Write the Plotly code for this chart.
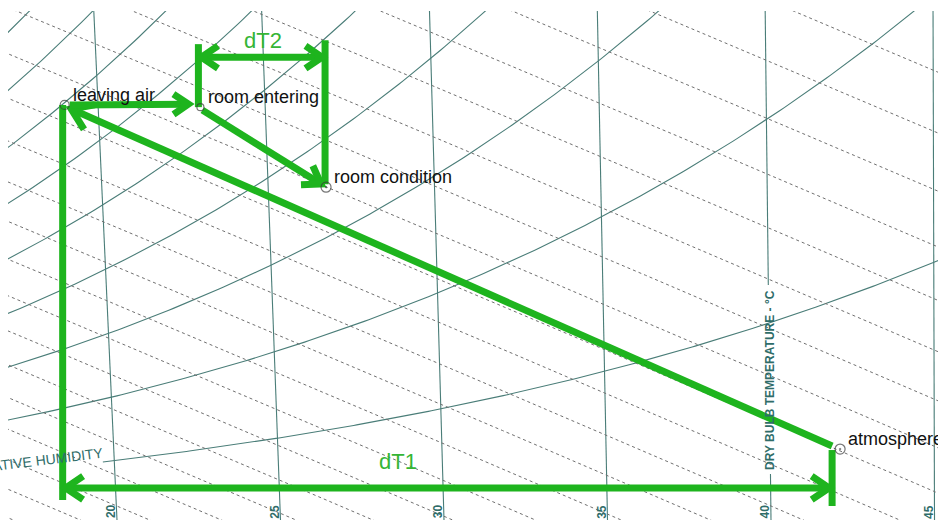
import numpy as np
import plotly.graph_objects as go

# ---------------- values ----------------
db_lines = [20, 25, 30, 35, 40, 45]                      # dry-bulb lines, deg C
db_tick_labels = ["20", "25", "30", "35", "40", "45"]
rh_lines = [10, 20, 30, 40, 50, 60, 70, 80, 90, 100]      # relative humidity, %
twb_lines = [2.8, 3.8, 4.8, 5.8, 6.8, 7.8, 8.8, 9.8, 10.8, 11.8, 12.8, 13.8,
             14.8, 15.8, 16.8, 17.8, 18.8, 19.8, 20.8, 21.8, 22.8, 23.8, 24.8]  # wet-bulb lines
state_names = ["leaving air", "room entering", "room condition", "atmosphere"]
state_tdb = [19.0, 23.06, 26.74, 42.13]                   # deg C
state_w = [9.52, 9.47, 7.65, 1.70]                        # g/kg dry air
dt_labels = ["dT1", "dT2"]
rh_axis_title = "RELATIVE HUMIDITY"
db_axis_title = "DRY BULB TEMPERATURE - °C"

# ---------------- chart geometry ----------------
P_ATM = 101.325
X_RANGE = [16.667, 45.107]
W_RANGE = [0.087, 11.655]
FIG_W, FIG_H = 938, 520
M_L, M_T = 8, 11
KX = (FIG_W - M_L) / (X_RANGE[1] - X_RANGE[0])
KY = (FIG_H - M_T) / (W_RANGE[1] - W_RANGE[0])
WB_SLOPE = 0.323          # g/kg per K along the dashed lines
RH10_START = 19.65        # the 10 % curve gives way to its label
DB40_GAP = (1.13, 5.43)   # the 40 line gives way to the axis title

GRID = "#4a7d78"
TEAL = "#2f6d69"
GREEN = "#1eb41e"
GREEN_TXT = "#35b535"


def chart_x(T, W):
    frac = (np.asarray(W) - W_RANGE[0]) / (W_RANGE[1] - W_RANGE[0])
    lean_px = 1.47 + 0.869 * (45.0 - np.asarray(T))
    return np.asarray(T) - lean_px / KX * frac


def to_px(x, w):
    return M_L + (x - X_RANGE[0]) * KX, M_T + (W_RANGE[1] - w) * KY


def from_px(px, py):
    return X_RANGE[0] + (px - M_L) / KX, W_RANGE[1] - (py - M_T) / KY


def p_sat(T):
    return 0.61094 * np.exp(17.625 * T / (T + 243.04))


def w_rh(T, rh):
    pv = rh / 100.0 * p_sat(T)
    return 622.0 * pv / (P_ATM - pv)


fig = go.Figure()

# dry-bulb lines
xs, ys = [], []
for T in db_lines:
    if T == 40:
        segs = [(W_RANGE[0] - 0.2, DB40_GAP[0]), (DB40_GAP[1], W_RANGE[1] + 0.2)]
    else:
        segs = [(W_RANGE[0] - 0.2, W_RANGE[1] + 0.2)]
    for a, b in segs:
        w = np.array([a, b])
        xs += list(chart_x(T, w)) + [None]
        ys += list(w) + [None]
fig.add_trace(go.Scatter(x=xs, y=ys, mode="lines", line=dict(color=GRID, width=1.1),
                         hoverinfo="skip"))

# relative humidity curves
xs, ys = [], []
for rh in rh_lines:
    T = np.linspace(RH10_START if rh == 10 else 5, 47, 300)
    w = w_rh(T, rh)
    keep = w < W_RANGE[1] + 0.6
    xs += list(chart_x(T[keep], w[keep])) + [None]
    ys += list(w[keep]) + [None]
fig.add_trace(go.Scatter(x=xs, y=ys, mode="lines", line=dict(color=GRID, width=1.1),
                         hoverinfo="skip"))

# wet-bulb (dashed) lines
xs, ys = [], []
for twb in twb_lines:
    T = np.linspace(twb, 47, 80)
    w = 622.0 * p_sat(twb) / (P_ATM - p_sat(twb)) - WB_SLOPE * (T - twb)
    keep = (w > W_RANGE[0] - 0.5) & (w < W_RANGE[1] + 3)
    xs += list(chart_x(T[keep], w[keep])) + [None]
    ys += list(w[keep]) + [None]
fig.add_trace(go.Scatter(x=xs, y=ys, mode="lines",
                         line=dict(color="#707070", width=1, dash="3px,3px"),
                         hoverinfo="skip"))

# ---------------- hand-drawn green construction ----------------
sx = [float(chart_x(t, w)) for t, w in zip(state_tdb, state_w)]
spx = [to_px(x, w) for x, w in zip(sx, state_w)]

gx, gy = [], []


def seg(p0, p1):
    a = from_px(*p0)
    b = from_px(*p1)
    gx.extend([a[0], b[0], None])
    gy.extend([a[1], b[1], None])


def head(tip, tail, L=21, ang=34):
    d = np.array(tip) - np.array(tail)
    d = d / np.hypot(*d)
    pts = []
    for s in (1, -1):
        r = np.radians(s * ang)
        rot = np.array([d[0] * np.cos(r) - d[1] * np.sin(r), d[0] * np.sin(r) + d[1] * np.cos(r)])
        pts.append(np.array(tip) - L * rot)
    for p in (pts[0], tip, pts[1]):
        q = from_px(*p)
        gx.append(q[0]); gy.append(q[1])
    gx.append(None); gy.append(None)


def shorten(p0, p1, d):
    v = np.array(p1) - np.array(p0)
    return tuple(np.array(p1) - d * v / np.hypot(*v))


la, re, rc, at = spx
# dT1 construction
x_left = la[0] - 2
x_right = at[0] - 8
y_dt1 = la[1] + 383
seg((x_left, la[1]), (x_left, la[1] + 395))
seg((x_right, at[1] + 1), (x_right, at[1] + 57))
seg((x_left + 3, y_dt1), (x_right - 3, y_dt1))
head((x_left + 3, y_dt1), (x_right, y_dt1))
head((x_right - 3, y_dt1), (x_left, y_dt1))
# long diagonal atmosphere -> leaving air
d_tail = (x_right, at[1] - 3)
d_tip = shorten(d_tail, (la[0] + 2, la[1] + 2), 5)
seg(d_tail, d_tip)
head(d_tip, d_tail, L=24)
# leaving air -> room entering
h_tail = (la[0] + 5, la[1])
h_tip = (re[0] - 12, re[1] - 3)
seg(h_tail, h_tip)
head(h_tip, h_tail, L=18)
# room entering -> room condition
r_tail = (re[0] + 2, re[1] + 3)
r_tip = shorten(r_tail, rc, 6)
seg(r_tail, r_tip)
head(r_tip, r_tail, L=20)
# dT2 construction
x2l = re[0] - 2
x2r = rc[0] - 1
y_dt2 = re[1] - 50
seg((x2l, re[1]), (x2l, re[1] - 63))
seg((x2r, rc[1] - 3), (x2r, rc[1] - 147))
seg((x2l + 3, y_dt2), (x2r - 3, y_dt2))
head((x2l + 3, y_dt2), (x2r, y_dt2), L=20)
head((x2r - 3, y_dt2), (x2l, y_dt2), L=20)

fig.add_trace(go.Scatter(x=gx, y=gy, mode="lines",
                         line=dict(color=GREEN, width=7), hoverinfo="skip"))

# state points
fig.add_trace(go.Scatter(
    x=sx, y=state_w, mode="markers",
    marker=dict(symbol=["circle-open", "circle-open", "circle-open-dot", "circle-open-dot"],
                size=[9, 7, 10, 10], color="#3a3a3a", line=dict(width=1.2)),
    hoverinfo="skip"))

annotations = []
for name, x, w in zip(state_names, sx, state_w):
    annotations.append(dict(x=x, y=w, text=name, showarrow=False, xanchor="left",
                            yanchor="middle", xshift=6, yshift=10,
                            font=dict(family="Liberation Sans, Arial", size=18, color="#111")))

# dT labels
p = from_px(x_left + 0.436 * (x_right - x_left), y_dt1 - 26)
annotations.append(dict(x=p[0], y=p[1], text=dt_labels[0], showarrow=False,
                        font=dict(family="Liberation Sans, Arial", size=22, color=GREEN_TXT)))
p = from_px((x2l + x2r) / 2 + 1, y_dt2 - 17)
annotations.append(dict(x=p[0], y=p[1], text=dt_labels[1], showarrow=False,
                        font=dict(family="Liberation Sans, Arial", size=22, color=GREEN_TXT)))

# dry-bulb tick labels
w_tick = W_RANGE[0] + 8.5 / KY
for T, lab in zip(db_lines, db_tick_labels):
    annotations.append(dict(x=float(chart_x(T, w_tick)), y=w_tick, text="<b>%s</b>" % lab,
                            showarrow=False, textangle=-90, xshift=-6,
                            font=dict(family="Liberation Sans Narrow, Liberation Sans, Arial",
                                      size=12, color=TEAL)))

# dry-bulb axis title along the 40 line
w_t = (DB40_GAP[0] + DB40_GAP[1]) / 2
annotations.append(dict(x=float(chart_x(40, w_t)), y=w_t, text="<b>%s</b>" % db_axis_title,
                        showarrow=False, textangle=-90,
                        font=dict(family="Liberation Sans Narrow, Liberation Sans, Arial",
                                  size=12, color=TEAL)))

# relative humidity title along the 10 % curve
w_r = float(w_rh(RH10_START, 10))
annotations.append(dict(x=float(chart_x(RH10_START, w_r)), y=w_r, text=rh_axis_title,
                        showarrow=False, textangle=-7, xanchor="right", yanchor="middle",
                        xshift=4, yshift=1,
                        font=dict(family="Liberation Sans Narrow, Liberation Sans, Arial",
                                  size=14, color=TEAL)))

fig.update_layout(
    width=FIG_W, height=FIG_H,
    margin=dict(l=M_L, r=0, t=M_T, b=0),
    paper_bgcolor="white", plot_bgcolor="white",
    showlegend=False,
    xaxis=dict(range=X_RANGE, visible=False, fixedrange=True),
    yaxis=dict(range=W_RANGE, visible=False, fixedrange=True),
    annotations=annotations,
)

fig.write_html("out.html", config={"displayModeBar": False, "staticPlot": True},
               post_script="document.body.style.margin='0px';")
